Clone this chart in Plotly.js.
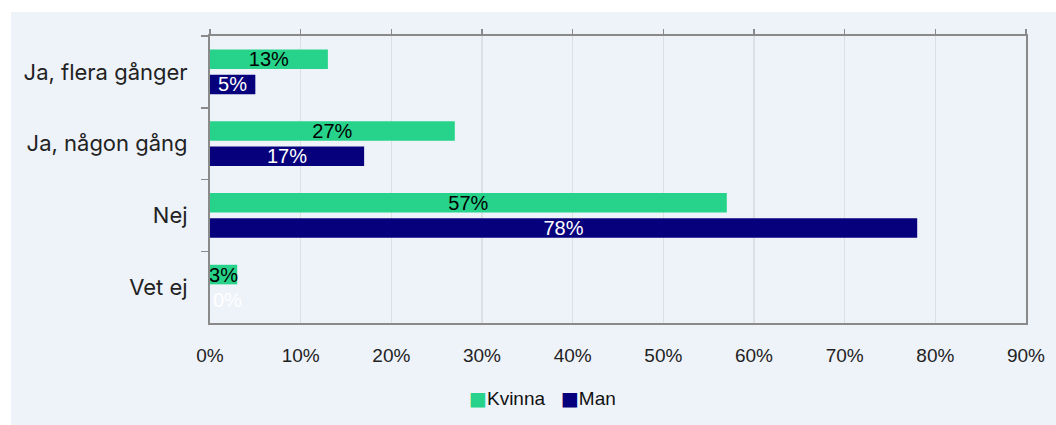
<!DOCTYPE html>
<html>
<head>
<meta charset="utf-8">
<script src="https://cdn.plot.ly/plotly-3.0.1.min.js"></script>
<style>
  html, body { margin:0; padding:0; background:#ffffff; width:1056px; height:425px; overflow:hidden; }
  #chart { position:absolute; left:11px; top:12px; width:1045px; height:413px; }
</style>
</head>
<body>
<div id="chart"></div>
<script>
const categories = ["Ja, flera gånger", "Ja, någon gång", "Nej", "Vet ej"];
const kvinna = [0.13, 0.27, 0.57, 0.03];
const man = [0.05, 0.17, 0.78, 0.00];
const seriesNames = ["Kvinna", "Man"];
const seriesColors = ["#27D38A", "#07007D"];
const tickVals = [0, 0.1, 0.2, 0.3, 0.4, 0.5, 0.6, 0.7, 0.8, 0.9];

const pct = v => Math.round(v * 100) + "%";
const barFont = {family: "Liberation Sans, Arial, sans-serif", size: 20};
const pos = arr => arr.map(v => v > 0 ? "inside" : "outside");

const traces = [
  {
    type: "bar", orientation: "h", name: seriesNames[0],
    y: categories, x: kvinna, text: kvinna.map(pct),
    textposition: pos(kvinna), insidetextanchor: "middle", constraintext: "none",
    textfont: Object.assign({color: "#000000"}, barFont),
    outsidetextfont: Object.assign({color: "#000000"}, barFont),
    marker: {color: seriesColors[0]}, hoverinfo: "none", cliponaxis: false, showlegend: false
  },
  {
    type: "bar", orientation: "h", name: seriesNames[1],
    y: categories, x: man, text: man.map(pct),
    textposition: pos(man), insidetextanchor: "middle", constraintext: "none",
    textfont: Object.assign({color: "#ffffff"}, barFont),
    outsidetextfont: Object.assign({color: "#ffffff"}, barFont),
    marker: {color: seriesColors[1]}, hoverinfo: "none", cliponaxis: false, showlegend: false
  },
  // dummy trace to activate the top tick axis
  {type: "scatter", x: [0], y: [categories[0]], xaxis: "x2", mode: "none", showlegend: false, hoverinfo: "skip"}
];

const legendText = seriesNames.map((n, i) =>
  '<span style="color:' + seriesColors[i] + ';font-family:DejaVu Sans">■</span>' + n
).join('   ');

const layout = {
  width: 1045, height: 413,
  paper_bgcolor: "#EEF3FA", plot_bgcolor: "#EEF3FA",
  margin: {l: 199, r: 30, t: 24, b: 102, autoexpand: false},
  barmode: "group", bargap: 0.3, bargroupgap: 0.22,
  font: {family: "Liberation Sans, Arial, sans-serif", color: "#222222"},
  xaxis: {
    range: [0, 0.9], tickvals: tickVals, tickformat: ".0%",
    showgrid: true, gridcolor: "#DCDFE4", gridwidth: 1.5,
    showline: true, linecolor: "#8A8A8A", linewidth: 2, mirror: true,
    ticks: "", zeroline: false,
    tickfont: {family: "Liberation Sans, Arial, sans-serif", size: 19, color: "#222222"},
    ticklabelstandoff: 14, fixedrange: true
  },
  xaxis2: {
    overlaying: "x", side: "top", range: [0, 0.9], tickvals: tickVals,
    ticks: "outside", ticklen: 6, tickwidth: 1.5, tickcolor: "#8A8A8A",
    showticklabels: false, showgrid: false, showline: false, zeroline: false
  },
  yaxis: {
    type: "category", autorange: "reversed",
    showline: true, linecolor: "#8A8A8A", linewidth: 2, mirror: true,
    ticks: "outside", tickson: "boundaries", ticklen: 7, tickwidth: 1.5, tickcolor: "#8A8A8A",
    showgrid: false, zeroline: false,
    tickfont: {family: "Inter, sans-serif", size: 22, color: "#222222"},
    ticklabelstandoff: 16, fixedrange: true
  },
  showlegend: false,
  annotations: [{
    xref: "paper", yref: "paper", x: 0.407, y: -0.262, xanchor: "center", yanchor: "middle",
    text: legendText, showarrow: false,
    font: {family: "Liberation Sans, Arial, sans-serif", size: 19, color: "#111111"}
  }]
};

Plotly.newPlot("chart", traces, layout, {displayModeBar: false, staticPlot: true});
</script>
</body>
</html>
